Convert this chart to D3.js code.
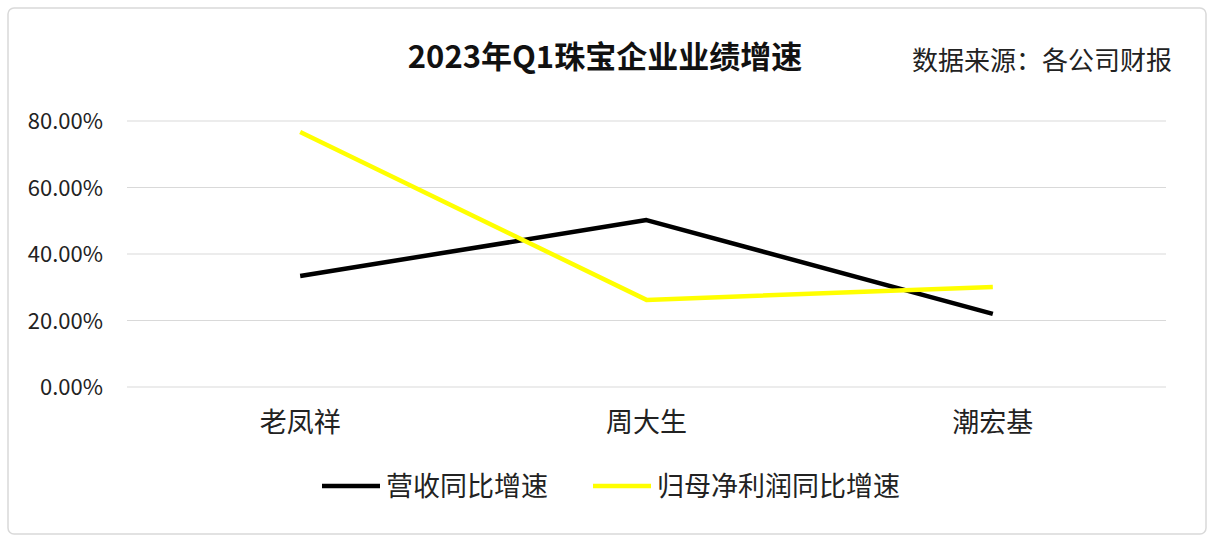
<!DOCTYPE html>
<html><head><meta charset="utf-8">
<script src="https://cdn.jsdelivr.net/npm/d3@7"></script>
<style>body{margin:0;background:#fff;font-family:"Noto Sans CJK SC","Noto Sans",sans-serif}</style>
</head><body>
<script>
// chart data
const categories = ['老凤祥', '周大生', '潮宏基']
const revenueGrowth = [33.4, 50.2, 22.0]
const profitGrowth = [76.7, 26.2, 30.1]
const yTicks = [0, 20, 40, 60, 80]
const seriesNames = ['营收同比增速', '归母净利润同比增速']
const colors = ['#000000', '#ffff00']

const width = 1214, height = 542
const svg = d3.select('body').append('svg').attr('width', width).attr('height', height)

svg.append('rect').attr('x', 8).attr('y', 8).attr('width', 1198).attr('height', 526)
  .attr('rx', 6).attr('fill', '#fff').attr('stroke', '#d9d9d9').attr('stroke-width', 1.5)

const x = d3.scaleBand().domain(categories).range([127, 1166])
const y = d3.scaleLinear().domain([0, 80]).range([387, 121])

// gridlines
svg.selectAll('.grid').data(yTicks).enter().append('line')
  .attr('x1', 127).attr('x2', 1166)
  .attr('y1', d => y(d)).attr('y2', d => y(d))
  .attr('stroke', '#d9d9d9').attr('stroke-width', 1)

svg.selectAll('.ytick').data(yTicks).enter().append('text')
  .attr('x', 103).attr('y', d => y(d) + 8).attr('text-anchor', 'end')
  .attr('font-size', 22).attr('fill', '#222').text(d => d.toFixed(2) + '%')

svg.selectAll('.xtick').data(categories).enter().append('text')
  .attr('x', d => x(d) + x.bandwidth() / 2).attr('y', 432).attr('text-anchor', 'middle')
  .attr('font-size', 27).attr('fill', '#222').text(d => d)

const line = d3.line().x((d, i) => x(categories[i]) + x.bandwidth() / 2).y(d => y(d))
;[revenueGrowth, profitGrowth].forEach((s, k) => {
  svg.append('path').datum(s).attr('d', line).attr('fill', 'none')
    .attr('stroke', colors[k]).attr('stroke-width', 4.5).attr('stroke-linejoin', 'round')
})

// title and source
svg.append('text').attr('x', 605).attr('y', 68).attr('text-anchor', 'middle')
  .attr('font-size', 31).attr('font-weight', 'bold').attr('fill', '#111').text('2023年Q1珠宝企业业绩增速')
svg.append('text').attr('x', 1172).attr('y', 70).attr('text-anchor', 'end')
  .attr('font-size', 26).attr('fill', '#222').text('数据来源：各公司财报')

// legend
const legX = [322, 593]
seriesNames.forEach((n, k) => {
  svg.append('line').attr('x1', legX[k]).attr('x2', legX[k] + 58).attr('y1', 486).attr('y2', 486)
    .attr('stroke', colors[k]).attr('stroke-width', 4.5)
  svg.append('text').attr('x', legX[k] + 64).attr('y', 496).attr('font-size', 27)
    .attr('fill', '#222').text(n)
})
</script>
</body></html>
